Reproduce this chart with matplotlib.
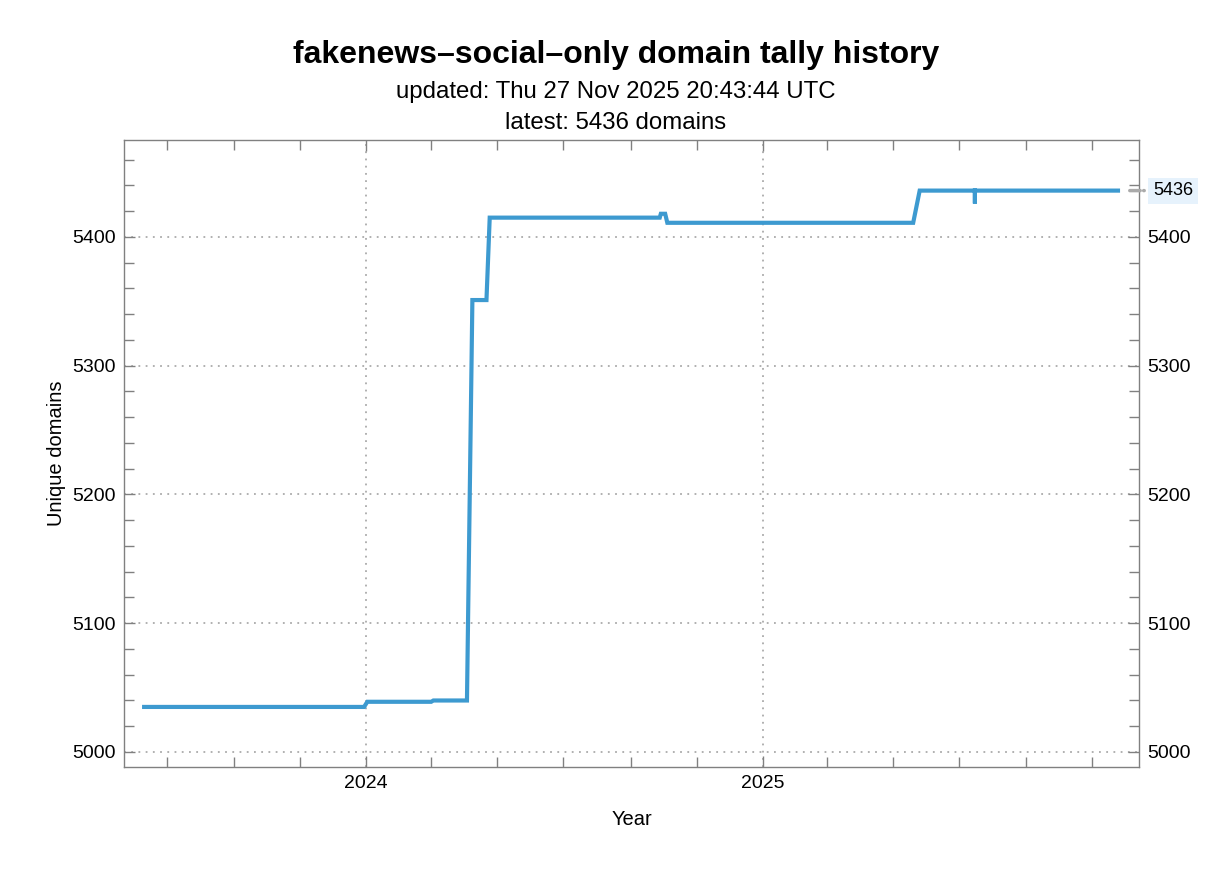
import matplotlib
matplotlib.use("Agg")
import matplotlib.pyplot as plt
import matplotlib.dates as mdates
from matplotlib.ticker import MultipleLocator
import numpy as np
from datetime import datetime

plt.rcParams['font.family'] = ['Liberation Sans', 'DejaVu Sans']

dates = ["2023-06-08", "2023-12-30", "2024-01-02", "2024-03-01", "2024-03-03",
         "2024-04-03", "2024-04-08", "2024-04-21", "2024-04-24", "2024-09-28",
         "2024-09-29", "2024-10-03", "2024-10-05", "2025-05-20", "2025-05-26",
         "2025-07-16", "2025-07-16", "2025-07-16", "2025-11-27"]
values = [5035, 5035, 5039, 5039, 5040,
          5040, 5351, 5351, 5415, 5415,
          5418, 5418, 5411, 5411, 5436,
          5436, 5426, 5436, 5436]
latest = 5436
title = "fakenews–social–only domain tally history"
subtitle1 = "updated: Thu 27 Nov 2025 20:43:44 UTC"
subtitle2 = "latest: 5436 domains"

x = [datetime.strptime(d, "%Y-%m-%d") for d in dates]

fig = plt.figure(figsize=(12.32, 8.72), dpi=100)
ax = fig.add_axes([124/1232, 1-767/872, (1139-124)/1232, (767-140)/872])

ax.plot(x, values, color='#3d9ad0', lw=3.0, solid_joinstyle='miter', solid_capstyle='butt')

ax.set_xlim(mdates.date2num(datetime(2023, 5, 22, 8)), mdates.date2num(datetime(2025, 12, 14, 12)))
ax.set_ylim(4988.35, 5475.3)

ax.xaxis.set_major_locator(mdates.YearLocator())
ax.xaxis.set_major_formatter(mdates.DateFormatter('%Y'))
ax.xaxis.set_minor_locator(mdates.MonthLocator(bymonth=[1, 3, 5, 7, 9, 11]))
ax.yaxis.set_major_locator(MultipleLocator(100))
ax.yaxis.set_minor_locator(MultipleLocator(20))

gray = '#808080'
for s in ax.spines.values():
    s.set_color(gray)
    s.set_linewidth(1.0)
ax.tick_params(which='both', direction='in', top=True, right=True, labelright=True,
               color=gray, labelsize=14, pad=6)
ax.tick_params(which='major', length=8, width=1)
ax.tick_params(which='minor', length=7, width=1)

ax.grid(True, which='major', color='#aaaaaa', linestyle=(0, (1, 3)), linewidth=1.3)

ax.set_xlabel("Year", fontsize=14.5, labelpad=13)
ax.set_ylabel("Unique domains", fontsize=14.5, labelpad=4)

# latest marker beyond right spine
ax.annotate("", xy=(1.0 + 8/1015, latest), xycoords=('axes fraction', 'data'),
            xytext=(1.0 - 12/1015, latest), textcoords=('axes fraction', 'data'),
            arrowprops=dict(arrowstyle='-', color='#aaaaaa', lw=2.5, linestyle=(0, (3, 1))),
            annotation_clip=False)
ax.text(1.0 + 14/1015, latest, str(latest), transform=ax.get_yaxis_transform(),
        fontsize=13, va='center', ha='left',
        bbox=dict(boxstyle='square,pad=0.25', facecolor='#e6f2fc', edgecolor='none'),
        clip_on=False)

fig.text(0.5, 1-55/872, title, ha='center', va='center', fontsize=23, fontweight='bold')
fig.text(0.5, 1-92/872, subtitle1, ha='center', va='center', fontsize=17.3)
fig.text(0.5, 1-123/872, subtitle2, ha='center', va='center', fontsize=17.3)

fig.savefig("out.png", dpi=100)
